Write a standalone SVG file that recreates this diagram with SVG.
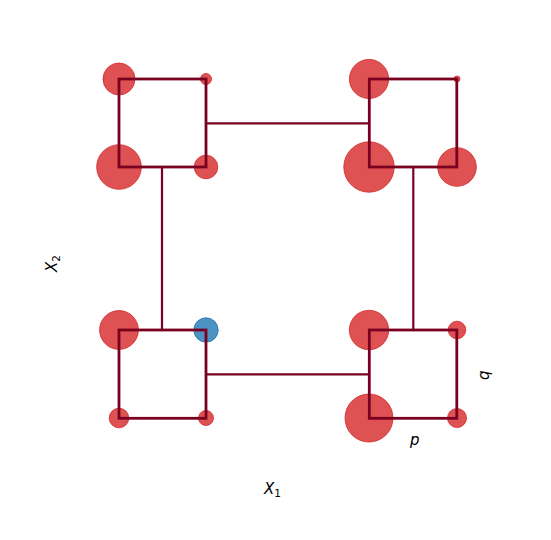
<svg xmlns="http://www.w3.org/2000/svg" width="551" height="540" viewBox="0 0 551 540">
<style>
.r{fill:#d62728;fill-opacity:0.8;stroke:#d62728;stroke-opacity:0.8;stroke-width:1}
.b{fill:#1f77b4;fill-opacity:0.8;stroke:#1f77b4;stroke-opacity:0.8;stroke-width:1}
.box{fill:none;stroke:#7a0022;stroke-width:2.8;stroke-linejoin:miter}
.c{fill:none;stroke:#7a0022;stroke-width:2.2}
text{font-family:"DejaVu Sans",sans-serif;font-size:15px;fill:#000}
</style>
<rect width="551" height="540" fill="#fff"/>
<g id="circles">
<circle class="r" cx="119" cy="79" r="16"/>
<circle class="r" cx="206" cy="79" r="5.5"/>
<circle class="r" cx="119" cy="167" r="22.3"/>
<circle class="r" cx="206" cy="167" r="11.8"/>
<circle class="r" cx="369" cy="79" r="19.6"/>
<circle class="r" cx="457" cy="79" r="3"/>
<circle class="r" cx="369" cy="167" r="25.2"/>
<circle class="r" cx="457" cy="167" r="19.3"/>
<circle class="r" cx="119" cy="330" r="19.4"/>
<circle class="b" cx="206" cy="330" r="12.2"/>
<circle class="r" cx="119" cy="418" r="9.8"/>
<circle class="r" cx="206" cy="418" r="7.5"/>
<circle class="r" cx="369" cy="330" r="19.7"/>
<circle class="r" cx="457" cy="330" r="8.8"/>
<circle class="r" cx="369" cy="418" r="24"/>
<circle class="r" cx="457" cy="418" r="9.5"/>
</g>
<g id="connectors">
<path class="c" d="M206 123.3H369.3"/>
<path class="c" d="M162 167V330"/>
<path class="c" d="M413.3 167V330"/>
<path class="c" d="M206 374.3H369.3"/>
</g>
<g id="box_tl"><rect class="box" x="119" y="79" width="87" height="88"/></g>
<g id="box_tr"><rect class="box" x="369.3" y="79" width="87.5" height="88"/></g>
<g id="box_bl"><rect class="box" x="119" y="330" width="87" height="88.3"/></g>
<g id="box_br"><rect class="box" x="369.3" y="330" width="87.5" height="88.3"/></g>
<g id="labels">
<text x="264" y="494" font-style="italic">X<tspan font-style="normal" font-size="10.5" dy="3">1</tspan></text>
<text transform="translate(57,272) rotate(-90)" font-style="italic">X<tspan font-style="normal" font-size="10.5" dy="3">2</tspan></text>
<text x="410" y="445" font-style="italic">p</text>
<text transform="translate(489,380) rotate(-90)" font-style="italic">q</text>
</g>
</svg>
